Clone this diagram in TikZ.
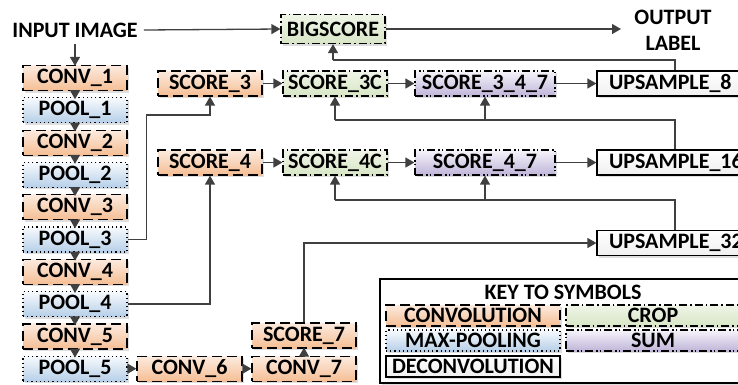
\documentclass[tikz,border=0pt]{standalone}
\usepackage{fontspec}
\setmainfont{Carlito}
\usetikzlibrary{arrows.meta,shadows,calc}
\definecolor{arrc}{HTML}{404040}
\definecolor{convT}{HTML}{FCEBDF}
\definecolor{convB}{HTML}{F5BE94}
\definecolor{poolT}{HTML}{F7FAFD}
\definecolor{poolB}{HTML}{B6CFE8}
\definecolor{cropT}{HTML}{EFF5E8}
\definecolor{cropB}{HTML}{D8E6C6}
\definecolor{sumT}{HTML}{F6F4FA}
\definecolor{sumB}{HTML}{BFB5D9}
\begin{document}
\begin{tikzpicture}[x=1pt,y=-1pt,
  font=\bfseries\fontsize{22}{24}\selectfont,
  box/.style={draw=black, line width=1.2pt, minimum width=104pt, minimum height=25pt, inner sep=0pt,
    drop shadow={shadow xshift=2pt, shadow yshift=-2pt, fill=black!25, opacity=.5}},
  conv/.style={box, top color=convT, bottom color=convB, dash pattern=on 10pt off 5pt},
  pool/.style={box, top color=poolT, bottom color=poolB, dash pattern=on 1.2pt off 3pt},
  crop/.style={box, top color=cropT, bottom color=cropB, dash pattern=on 8pt off 3pt on 1.5pt off 3pt},
  sumb/.style={box, top color=sumT, bottom color=sumB, dash pattern=on 8pt off 3pt on 1.5pt off 2pt on 1.5pt off 3pt},
  upbox/.style={box, solid, top color=white, bottom color=black!6, minimum width=138pt, text width=126pt, align=left, inner xsep=12pt},
  dcbox/.style={box, solid, top color=white, bottom color=black!6},
  lnk/.style={draw=arrc, line width=1.3pt},
  arr/.style={lnk, -{Triangle[length=9pt,width=10pt]}},
  lbl/.style={inner sep=0pt, align=center}
]
\clip (0,0) rectangle (738,384);
% left column
\node[lbl] (in) at (75,30) {INPUT IMAGE};
\node[conv] (c1) at (75,78) {CONV\_1};
\node[pool] (p1) at (75,110.3) {POOL\_1};
\node[conv] (c2) at (75,142.6) {CONV\_2};
\node[pool] (p2) at (75,174.9) {POOL\_2};
\node[conv] (c3) at (75,207.2) {CONV\_3};
\node[pool] (p3) at (75,239.5) {POOL\_3};
\node[conv] (c4) at (75,271.8) {CONV\_4};
\node[pool] (p4) at (75,304.1) {POOL\_4};
\node[conv] (c5) at (75,336.4) {CONV\_5};
\node[pool] (p5) at (75,368.7) {POOL\_5};
\node[conv, minimum width=105pt] (c6) at (189.5,368.7) {CONV\_6};
\node[conv] (c7) at (304,368.7) {CONV\_7};
\node[conv] (s7) at (304,335.5) {SCORE\_7};
% top
\node[crop, minimum height=29pt] (big) at (333,29) {BIGSCORE};
\node[lbl] (out) at (673,30) {OUTPUT\\[2pt]LABEL};
\coordinate (oa) at (621,29);
% row 1
\node[conv] (s3) at (210,83.5) {SCORE\_3};
\node[crop] (s3c) at (335,83.5) {SCORE\_3C};
\node[sumb, minimum width=140pt] (s347) at (485,83.5) {SCORE\_3\_4\_7};
\node[upbox] (u8) at (672,83.5) {UPSAMPLE\_8};
% row 2
\node[conv] (s4) at (210,162.5) {SCORE\_4};
\node[crop] (s4c) at (335,162.5) {SCORE\_4C};
\node[sumb, minimum width=140pt] (s47) at (485,162.5) {SCORE\_4\_7};
\node[upbox] (u16) at (672,162.5) {UPSAMPLE\_16};
\node[upbox] (u32) at (672,243) {UPSAMPLE\_32};
% legend
\node[draw=black, line width=1.3pt, fill=white, minimum width=365pt, minimum height=104pt, inner sep=0pt,
  drop shadow={shadow xshift=2pt, shadow yshift=-2pt, fill=black!25, opacity=.5}] (key) at (562.5,331) {};
\node[lbl] (keyt) at (563,292) {KEY TO SYMBOLS};
\node[conv, minimum width=174pt, minimum height=21pt] (kconv) at (473,315.5) {CONVOLUTION};
\node[crop, minimum width=174pt, minimum height=21pt] (kcrop) at (653,315.5) {CROP};
\node[pool, minimum width=174pt, minimum height=21pt] (kpool) at (473,340.5) {MAX-POOLING};
\node[sumb, minimum width=174pt, minimum height=21pt] (ksum) at (653,340.5) {SUM};
\node[dcbox, minimum width=174pt, minimum height=21pt] (kdc) at (473,366.5) {DECONVOLUTION};
% junction rows
\coordinate (r0) at (0,60);
\coordinate (r1) at (0,120);
\coordinate (r2) at (0,200);
\coordinate (r3) at (0,115);
% connectors
\draw[arr] (in.east) ++(6,0) -- (big.west);
\draw[arr] (big.east) -- (big.east -| oa);
\draw[arr, shorten >=-1pt] (in.south) ++(0,7) -- (c1.north);
\foreach \a/\b in {c1/p1,p1/c2,c2/p2,p2/c3,c3/p3,p3/c4,c4/p4,p4/c5,c5/p5}
  \draw[arr, shorten >=-2pt] (\a.south) -- (\b.north);
\draw[arr] (p5.east) -- (c6.west);
\draw[arr] (c6.east) -- (c7.west);
\draw[arr, shorten >=-1pt] (c7.north) -- (s7.south);
\draw[arr] (s7.north) |- (u32.west);
\draw[arr] (p3.east) -- ++(19,0) |- (s3.south |- r3) -- (s3.south);
\draw[arr] (p4.east) -| (s4.south);
\draw[arr] (s3.east) -- (s3c.west);
\draw[arr] (s3c.east) -- (s347.west);
\draw[arr] (s347.east) -- (u8.west);
\draw[arr] (s4.east) -- (s4c.west);
\draw[arr] (s4c.east) -- (s47.west);
\draw[arr] (s47.east) -- (u16.west);
\draw[lnk] ([xshift=3pt]u8.north) |- (big.south |- r0);
\draw[arr] (big.south |- r0) -- (big.south);
\draw[lnk] ([xshift=3pt]u16.north) |- (s3c.south |- r1);
\draw[arr] (s3c.south |- r1) -- (s3c.south);
\draw[arr] (s347.south |- r1) -- (s347.south);
\draw[lnk] ([xshift=3pt]u32.north) |- (s4c.south |- r2);
\draw[arr] (s4c.south |- r2) -- (s4c.south);
\draw[arr] (s47.south |- r2) -- (s47.south);
\end{tikzpicture}
\end{document}
